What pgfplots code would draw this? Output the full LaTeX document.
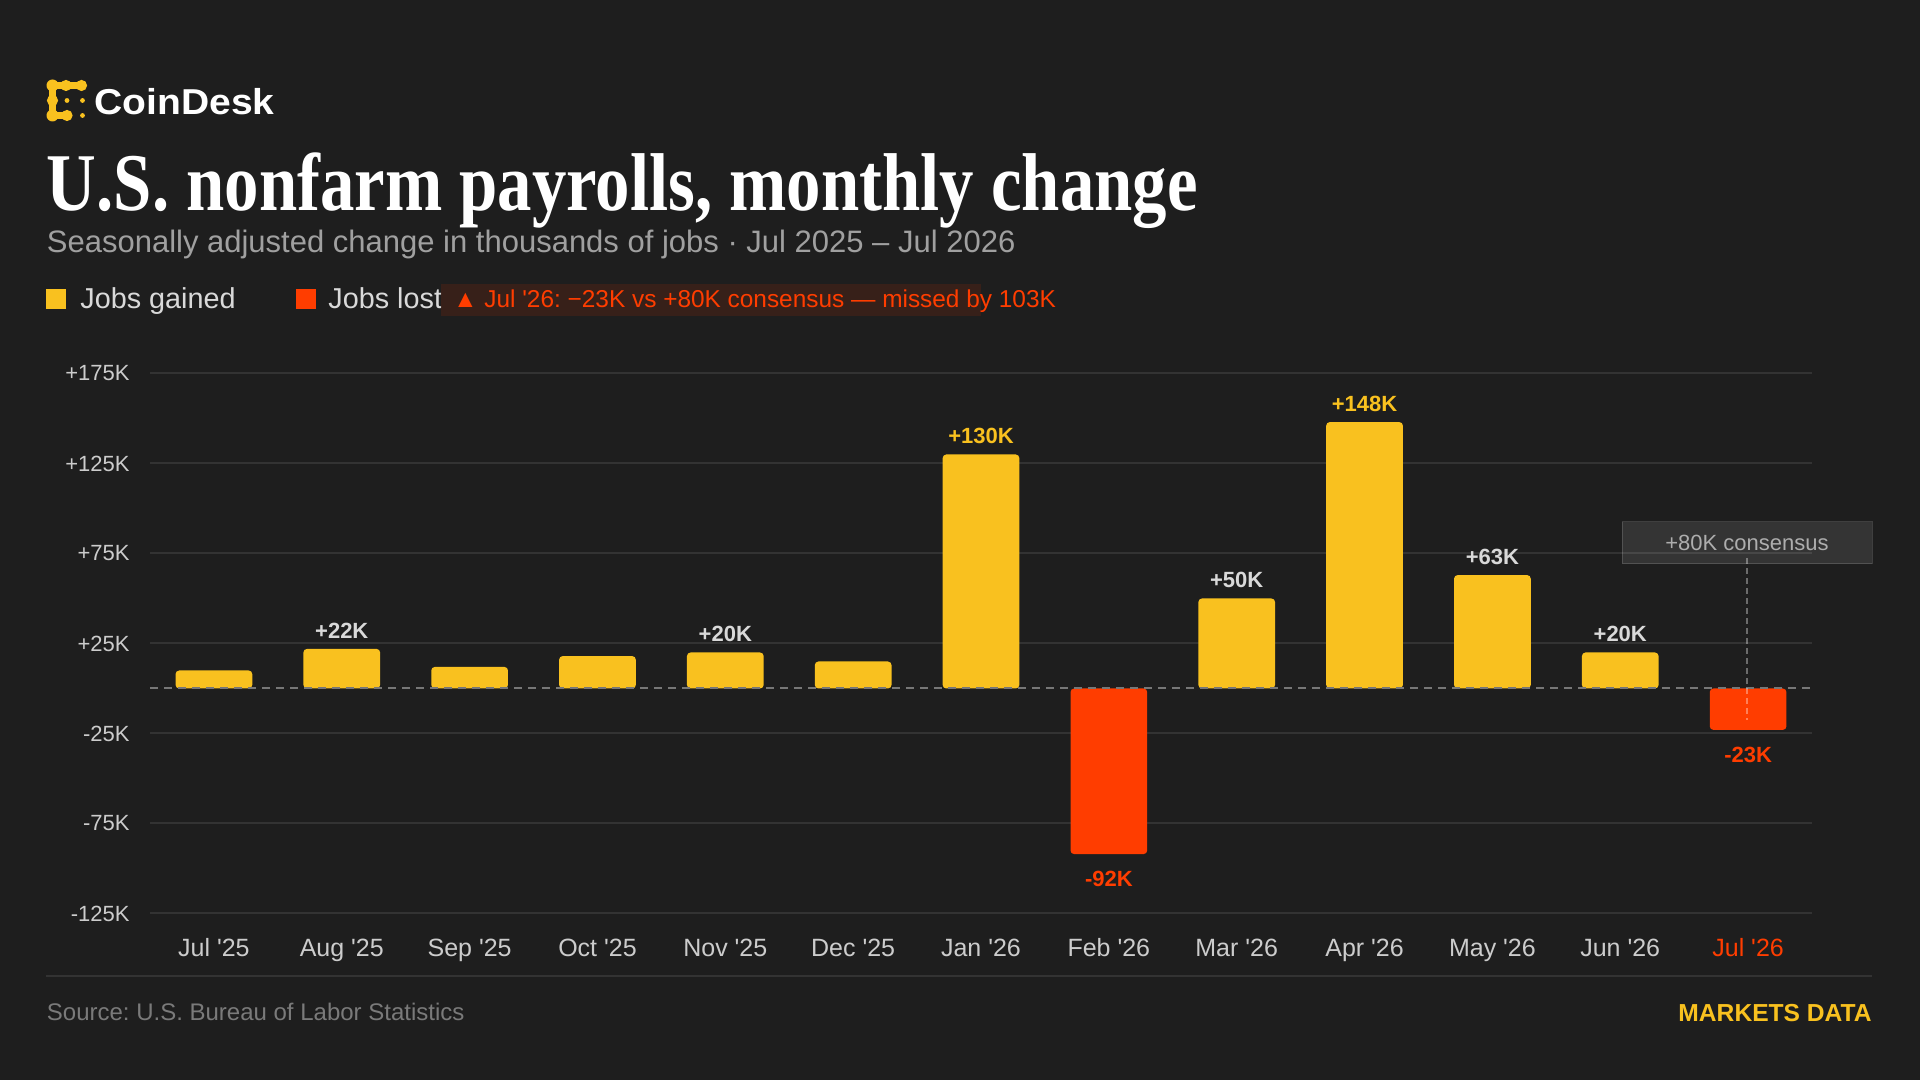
\documentclass[border=0pt]{standalone}
\usepackage{fontspec}
\setmainfont{Liberation Sans}
\newfontfamily\serif{Liberation Serif}
\usepackage{graphicx}
\usepackage{pgfplots}
\pgfplotsset{compat=1.18}

\definecolor{bg}{HTML}{1E1E1E}
\definecolor{gold}{HTML}{F9C11F}
\definecolor{redo}{HTML}{FF3D00}
\definecolor{gridc}{HTML}{333333}
\definecolor{tickc}{HTML}{CCCCCC}
\definecolor{subc}{HTML}{A0A0A0}
\definecolor{srcc}{HTML}{7A7A7A}
\definecolor{annbg}{HTML}{3A2119}
\definecolor{lblc}{HTML}{D9D9D9}
\definecolor{zeroc}{HTML}{777777}

\newcommand\q{\textquotesingle}
\frenchspacing

\begin{document}
\begin{tikzpicture}
\fill[bg] (0,0) rectangle (960pt,540pt);
\useasboundingbox (0,0) rectangle (960pt,540pt);

\begin{axis}[
  at={(75pt,83.25pt)}, anchor=south west,
  scale only axis, width=831pt, height=270pt,
  xmin=-0.5, xmax=12.5, ymin=-125, ymax=175,
  axis line style={draw=none},
  major tick length=0pt, tick style={draw=none},
  ytick={-125,-75,-25,25,75,125,175},
  yticklabels={-125K,-75K,-25K,+25K,+75K,+125K,+175K},
  ymajorgrids, grid style={gridc, line width=1pt},
  xtick={0,1,2,3,4,5,6,7,8,9,10,11,12},
  xticklabels={Jul \q25,Aug \q25,Sep \q25,Oct \q25,Nov \q25,Dec \q25,Jan \q26,Feb \q26,Mar \q26,Apr \q26,May \q26,Jun \q26,\textcolor{redo}{Jul \q26}},
  yticklabel style={font=\fontsize{11}{13}\selectfont, text=tickc, anchor=east, inner sep=0pt, xshift=-10pt},
  xticklabel style={font=\fontsize{12.5}{14}\selectfont, text=tickc, anchor=base, inner sep=0pt, yshift=-21.5pt},
  clip=false,
  point meta=explicit symbolic,
  every axis plot/.append style={ybar, bar width=0.6, bar shift=0pt, draw=none, rounded corners=1.8pt},
]
% unlabeled gains
\addplot[fill=gold] coordinates {(0,10) (2,12) (3,18) (5,15)};
% gains labelled in grey
\addplot[fill=gold,
  nodes near coords, every node near coord/.append style={font=\fontsize{11}{13}\selectfont\bfseries, text=lblc, inner sep=0pt, anchor=south, yshift=5pt}]
  coordinates {(1,22) [+22K] (4,20) [+20K] (8,50) [+50K] (10,63) [+63K] (11,20) [+20K]};
% gains labelled in gold
\addplot[fill=gold,
  nodes near coords, every node near coord/.append style={font=\fontsize{11}{13}\selectfont\bfseries, text=gold, inner sep=0pt, anchor=south, yshift=5pt}]
  coordinates {(6,130) [+130K] (9,148) [+148K]};
% losses
\addplot[fill=redo,
  nodes near coords, every node near coord/.append style={font=\fontsize{11}{13}\selectfont\bfseries, text=redo, inner sep=0pt, anchor=north, yshift=-8.5pt}]
  coordinates {(7,-92) [-92K] (12,-23) [-23K]};
\draw[zeroc, line width=1pt, dash pattern=on 4pt off 3pt] (axis cs:-0.5,0) -- (axis cs:12.5,0);
\end{axis}

\begin{scope}[x=0.5pt, y=-0.5pt, shift={(0pt,540pt)}]
  % logo
  \draw[gold, line width=3.6pt, line cap=round, line join=round] (81.5,85.5) -- (52.5,85.5) -- (52.5,115.5) -- (67,115.5);
  \fill[gold] (52.5,85.5) circle (6) (66,85.5) circle (5.6) (81.5,85.5) circle (5.6)
              (52.5,100.5) circle (5.6) (52.5,115.5) circle (6) (67,115.5) circle (5.6);
  \fill[gold] (67,100.5) circle (2.4) (82.5,100.5) circle (2.4) (82.5,115.5) circle (2.4);
  \node[anchor=base west, inner sep=0pt, text=white] at (94,115) {\resizebox{90pt}{\height}{\fontsize{18}{20}\selectfont\bfseries CoinDesk}};
  % title
  \node[anchor=base west, inner sep=0pt, text=white] at (46.5,211) {\resizebox{575.5pt}{\height}{\serif\bfseries\fontsize{41}{45}\selectfont U.S. nonfarm payrolls, monthly change}};
  % subtitle
  \node[anchor=base west, inner sep=0pt, text=subc] at (46.5,253) {\fontsize{15.5}{17}\selectfont Seasonally adjusted change in thousands of jobs · Jul 2025 – Jul 2026};
  % legend
  \fill[gold] (46,289) rectangle (66,309);
  \node[anchor=base west, inner sep=0pt, text=lblc] at (80,308.5) {\fontsize{14.4}{16}\selectfont Jobs gained};
  \fill[redo] (296,289) rectangle (316,309);
  \node[anchor=base west, inner sep=0pt, text=lblc] at (328,308.5) {\fontsize{14.4}{16}\selectfont Jobs lost};
  \fill[annbg, fill opacity=0.9] (441,284) rectangle (981,316);
  \node[anchor=base west, inner sep=0pt, text=redo] at (453,307.5) {\fontsize{12.2}{14}\selectfont ▲ Jul \q26: −23K vs +80K consensus — missed by 103K};
  % consensus marker
  \draw[white, opacity=0.35, line width=1pt, dash pattern=on 3pt off 2pt] (1747,558) -- (1747,720);
  \filldraw[fill=white, fill opacity=0.1, draw=white, draw opacity=0.15, line width=0.5pt] (1622,522) rectangle (1872,564);
  \node[text=tickc!85!black, inner sep=0pt] at (1747,543) {\fontsize{11}{13}\selectfont +80K consensus};
  % footer
  \draw[gridc, line width=1pt] (46,976) -- (1872,976);
  \node[anchor=base west, inner sep=0pt, text=srcc] at (46.5,1021) {\fontsize{12}{14}\selectfont Source: U.S. Bureau of Labor Statistics};
  \node[anchor=base east, inner sep=0pt, text=gold] at (1872,1022) {\fontsize{12.3}{14}\selectfont\bfseries MARKETS DATA};
\end{scope}
\end{tikzpicture}
\end{document}
